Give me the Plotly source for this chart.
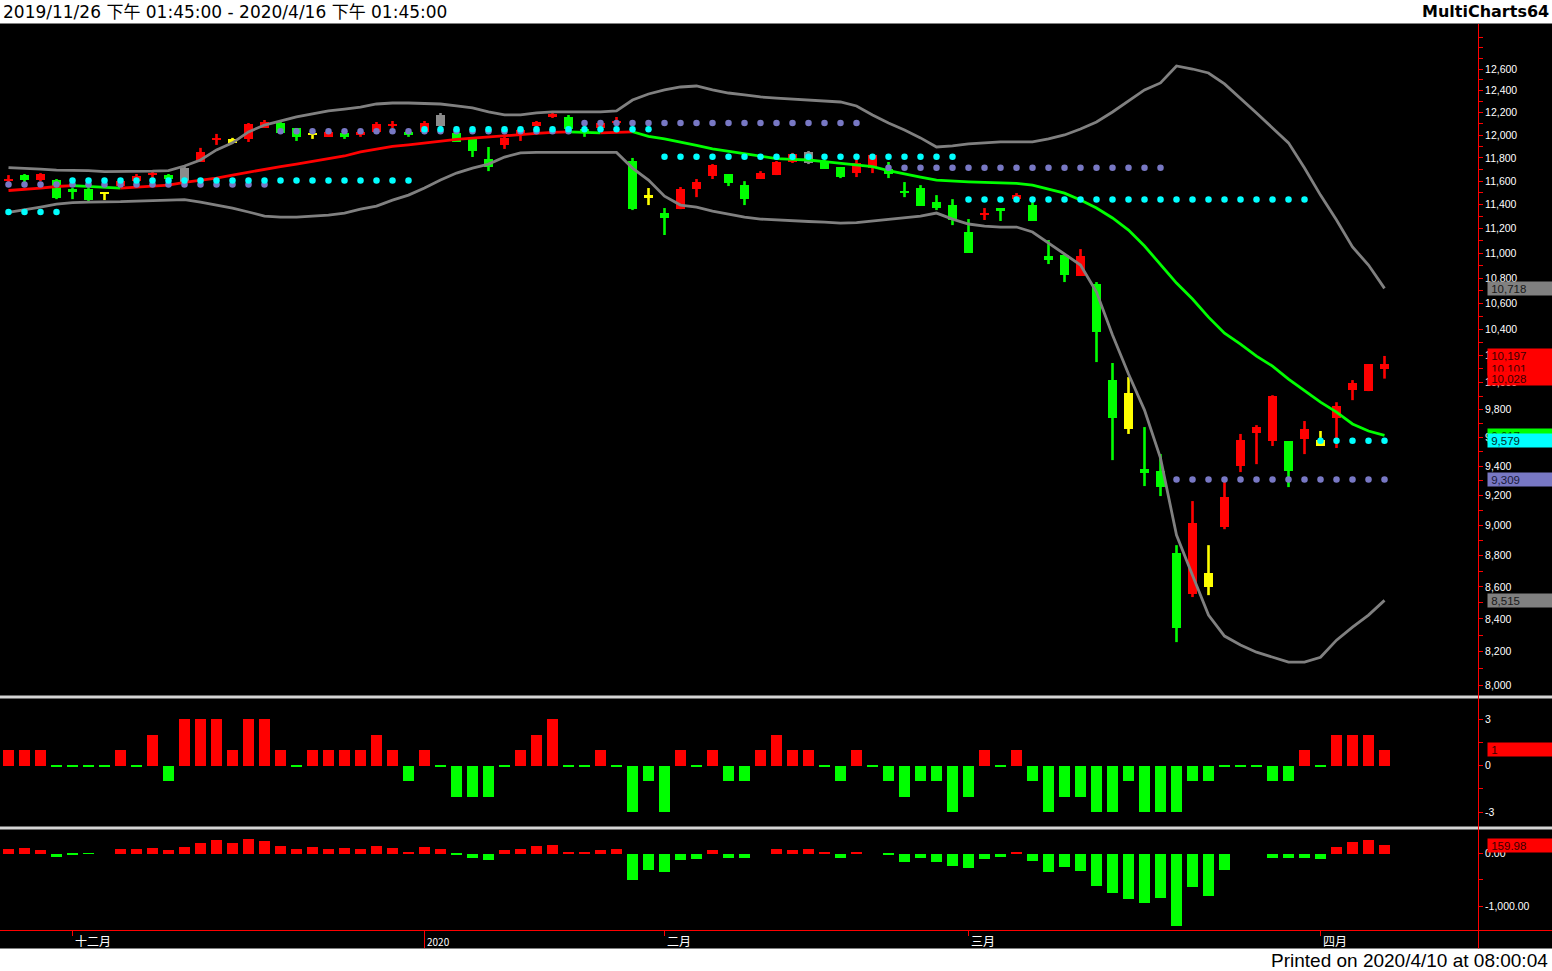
import math
import plotly.graph_objects as go

W, H = 1552, 971

# ------------------------------------------------------------------ data
# daily bars, 2019/11/26 .. 2020/4/9 (index 0..86)
open_ = [11600, 11652, 11609, 11609, 11532, 11532, 11507, 11558, 11600, 11652,
         11652, 11583, 11765, 11958, 11932, 11967, 12064, 12108, 12064, 12020,
         11985, 12020, 12002, 12029, 12082, 12029, 12029, 12082, 12020, 11976,
         11791, 11914, 12011, 12082, 12162, 12162, 12055, 12064, 12108, 11773,
         11481, 11330, 11363, 11532, 11643, 11661, 11566, 11618, 11652, 11765,
         11756, 11773, 11721, 11669, 11712, 11704, 11515, 11541, 11422, 11397,
         11173, 11313, 11372, 11447, 11397, 10976, 10984, 10816, 10752, 10017,
         9921, 9381, 9367, 8817, 8555, 8688, 8988, 9401, 9634, 9577,
         9577, 9591, 9584, 9740, 9943, 9936, 10101]
high_ = [11652, 11661, 11669, 11618, 11541, 11541, 11507, 11609, 11661, 11695,
         11661, 11732, 11888, 12011, 11976, 12108, 12135, 12117, 12064, 12020,
         12038, 12029, 12038, 12117, 12126, 12038, 12126, 12198, 12029, 11976,
         11896, 11985, 12073, 12126, 12198, 12180, 12108, 12117, 12162, 11800,
         11541, 11372, 11550, 11618, 11747, 11661, 11600, 11686, 11773, 11844,
         11861, 11782, 11721, 11791, 11826, 11765, 11592, 11566, 11481, 11447,
         11280, 11372, 11372, 11498, 11422, 11107, 10984, 11033, 10768, 10144,
         10039, 9676, 9485, 8869, 9162, 8869, 9291, 9627, 9690, 9906,
         9577, 9719, 9648, 9855, 10017, 10136, 10197]
low_ = [11592, 11592, 11600, 11447, 11447, 11431, 11439, 11550, 11592, 11626,
        11609, 11583, 11765, 11914, 11932, 11940, 12064, 12020, 11949, 11967,
        11985, 11967, 11985, 12020, 12064, 11985, 12020, 12073, 11940, 11808,
        11686, 11879, 11949, 12073, 12153, 12055, 11985, 12055, 12082, 11355,
        11397, 11148, 11363, 11464, 11618, 11558, 11397, 11618, 11652, 11756,
        11747, 11704, 11626, 11635, 11669, 11626, 11464, 11389, 11355, 11230,
        11001, 11272, 11264, 11447, 11264, 10912, 10768, 10816, 10151, 9443,
        9627, 9264, 9196, 8257, 8536, 8548, 8974, 9360, 9415, 9542,
        9257, 9485, 9542, 9528, 9870, 9936, 10028]
close_ = [11618, 11609, 11661, 11456, 11507, 11439, 11490, 11600, 11643, 11669,
          11618, 11712, 11853, 11976, 11967, 12099, 12117, 12020, 11985, 12002,
          12029, 11985, 12029, 12099, 12099, 12002, 12108, 12180, 11940, 11861,
          11721, 11976, 12046, 12117, 12189, 12055, 12029, 12108, 12126, 11363,
          11456, 11289, 11532, 11592, 11738, 11583, 11447, 11669, 11765, 11835,
          11853, 11704, 11635, 11756, 11826, 11661, 11498, 11389, 11372, 11272,
          11001, 11330, 11347, 11481, 11264, 10944, 10824, 10976, 10378, 9740,
          9662, 9353, 9257, 8343, 9014, 8599, 9189, 9584, 9676, 9899,
          9367, 9662, 9542, 9827, 9995, 10136, 10135]
yellow_bars = [6, 14, 19, 40, 70, 75, 82]
gray_bars = [11, 27, 50]

bb_upper = [11717, 11712, 11704, 11695, 11695, 11691, 11682, 11682, 11682, 11686,
            11691, 11730, 11782, 11870, 11932, 12029, 12090, 12126, 12162, 12189,
            12216, 12233, 12251, 12279, 12288, 12288, 12283, 12279, 12261, 12243,
            12207, 12180, 12180, 12198, 12207, 12207, 12207, 12207, 12216, 12315,
            12370, 12407, 12434, 12443, 12407, 12379, 12361, 12343, 12333, 12324,
            12315, 12311, 12297, 12261, 12180, 12108, 12046, 11976, 11896, 11905,
            11923, 11932, 11940, 11940, 11940, 11967, 12002, 12055, 12117, 12207,
            12306, 12407, 12471, 12628, 12600, 12563, 12462, 12333, 12198, 12064,
            11932, 11712, 11481, 11272, 11050, 10904, 10718]
bb_mid = [11520, 11528, 11541, 11554, 11562, 11555, 11548, 11541, 11548, 11556,
          11566, 11589, 11605, 11626, 11652, 11678, 11704, 11725, 11747, 11769,
          11791, 11817, 11852, 11879, 11901, 11914, 11932, 11949, 11962, 11973,
          11985, 11993, 12005, 12015, 12024, 12029, 12023, 12020, 12024, 12030,
          11989, 11967, 11940, 11910, 11879, 11857, 11835, 11813, 11795, 11788,
          11782, 11769, 11756, 11743, 11725, 11691, 11661, 11635, 11609, 11600,
          11594, 11589, 11583, 11581, 11566, 11532, 11498, 11439, 11372, 11289,
          11189, 11058, 10912, 10760, 10634, 10493, 10370, 10287, 10196, 10121,
          10024, 9936, 9855, 9783, 9698, 9648, 9617]
bb_lower = [11335, 11355, 11380, 11405, 11418, 11422, 11422, 11426, 11431, 11435,
            11443, 11443, 11422, 11397, 11372, 11339, 11305, 11297, 11297, 11305,
            11313, 11330, 11363, 11389, 11439, 11481, 11541, 11609, 11669, 11712,
            11747, 11808, 11844, 11848, 11848, 11848, 11848, 11848, 11848, 11712,
            11609, 11472, 11397, 11380, 11347, 11322, 11297, 11280, 11272, 11264,
            11260, 11255, 11247, 11251, 11264, 11280, 11289, 11305, 11330, 11280,
            11239, 11222, 11214, 11214, 11173, 11082, 10992, 10904, 10689, 10355,
            10062, 9798, 9457, 8935, 8675, 8423, 8294, 8239, 8196, 8165,
            8136, 8136, 8165, 8269, 8349, 8423, 8515]

# dotted levels: (first bar, last bar, level)
cyan_levels = [(0, 3, 11340), (4, 25, 11606), (26, 40, 12053),
               (41, 59, 11811), (60, 81, 11445), (82, 86, 9579)]
purple_levels = [(0, 16, 11572), (17, 35, 12035), (36, 53, 12108),
                 (55, 72, 11716), (73, 86, 9309)]

osc_values = [1, 1, 1, 0, 0, 0, 0, 1, 0, 2,
              -1, 3, 3, 3, 1, 3, 3, 1, 0, 1,
              1, 1, 1, 2, 1, -1, 1, 0, -2, -2,
              -2, 0, 1, 2, 3, 0, 0, 1, 0, -3,
              -1, -3, 1, 0, 1, -1, -1, 1, 2, 1,
              1, 0, -1, 1, 0, -1, -2, -1, -1, -3,
              -2, 1, 0, 1, -1, -3, -2, -2, -3, -3,
              -1, -3, -3, -3, -1, -1, 0, 0, 0, -1,
              -1, 1, 0, 2, 2, 2, 1]
flow_values = [77, 96, 58, -58, -15, -8, 0, 77, 77, 96,
               58, 115, 192, 250, 192, 269, 231, 135, 77, 115,
               77, 96, 77, 135, 96, 38, 115, 77, -15, -77,
               -115, 58, 77, 135, 154, 38, 38, 58, 77, -500,
               -308, -346, -115, -96, 58, -77, -77, 0, 77, 58,
               77, 38, -77, 38, 0, -20, -154, -77, -154, -231,
               -269, -96, -58, 38, -135, -346, -250, -327, -615, -750,
               -865, -942, -846, -1385, -635, -808, -308, 0, 0, -77,
               -77, -77, -96, 115, 212, 250, 159.98]

month_idx = [4, 26, 41, 60, 82]
month_labels = ["十二月", "2020", "二月", "三月", "四月"]

price_ticks = [8000, 8200, 8400, 8600, 8800, 9000, 9200, 9400, 9600, 9800, 10000,
               10200, 10400, 10600, 10800, 11000, 11200, 11400, 11600, 11800,
               12000, 12200, 12400, 12600]
price_minor = [8100, 8300, 8500, 8700, 8900, 9100, 9300, 9500, 9700, 9900, 10100,
               10300, 10500, 10700, 10900, 11100, 11300, 11500, 11700, 11900,
               12100, 12300, 12500, 12700, 12800, 12900]

header_text = "2019/11/26 下午 01:45:00 - 2020/4/16 下午 01:45:00"
brand_text = "MultiCharts64"
footer_text = "Printed on 2020/4/10 at 08:00:04"

# ------------------------------------------------------------------ style
RED, GREEN, YELLOW = "#FF0000", "#00FF00", "#FFFF00"
CANDLE_GRAY, BAND = "#8C8C8C", "#808080"
CYAN, PURPLE = "#00FFFF", "#7878C4"
N = len(close_)
xs = list(range(N))


def py(px):
    return (H - px) / H


def pxp(px):
    return px / W


fig = go.Figure()


def group_of(i):
    if i in yellow_bars:
        return "yellow"
    if i in gray_bars:
        return "gray"
    return "up" if close_[i] >= open_[i] else "down"


groups = {"up": RED, "down": GREEN, "yellow": YELLOW, "gray": CANDLE_GRAY}

# candle bodies
for g, col in groups.items():
    ids = [i for i in xs if group_of(i) == g]
    bases, sizes = [], []
    for i in ids:
        lo, hi = min(open_[i], close_[i]), max(open_[i], close_[i])
        minh = lo * 0.0019
        if hi - lo < minh:
            mid = (lo + hi) / 2
            lo, hi = mid - minh / 2, mid + minh / 2
        bases.append(lo)
        sizes.append(hi - lo)
    fig.add_trace(go.Bar(x=ids, y=sizes, base=bases, width=0.6,
                         marker=dict(color=col, line=dict(width=0)),
                         xaxis="x", yaxis="y", hoverinfo="skip"))

# wicks
for g, col in groups.items():
    wx, wy = [], []
    for i in xs:
        if group_of(i) == g:
            wx += [i, i, None]
            wy += [low_[i], high_[i], None]
    fig.add_trace(go.Scatter(x=wx, y=wy, mode="lines",
                             line=dict(color=col, width=2.6),
                             xaxis="x", yaxis="y", hoverinfo="skip"))

# bollinger bands
for band in (bb_upper, bb_lower):
    fig.add_trace(go.Scatter(x=xs, y=band, mode="lines",
                             line=dict(color=BAND, width=2.8),
                             xaxis="x", yaxis="y", hoverinfo="skip"))

# middle line coloured by direction
runs = []
for i in range(N - 1):
    col = RED if bb_mid[i + 1] >= bb_mid[i] else GREEN
    if runs and runs[-1][0] == col and runs[-1][1][-1] == i:
        runs[-1][1].append(i + 1)
    else:
        runs.append((col, [i, i + 1]))
for col, seg in runs:
    fig.add_trace(go.Scatter(x=seg, y=[bb_mid[k] for k in seg], mode="lines",
                             line=dict(color=col, width=2.8),
                             xaxis="x", yaxis="y", hoverinfo="skip"))

# dotted levels
for levels, col in ((purple_levels, PURPLE), (cyan_levels, CYAN)):
    dx, dy = [], []
    for a, b, lvl in levels:
        for k in range(a, b + 1):
            dx.append(k)
            dy.append(lvl)
    fig.add_trace(go.Scatter(x=dx, y=dy, mode="markers",
                             marker=dict(color=col, size=6.5, line=dict(width=0)),
                             xaxis="x", yaxis="y", hoverinfo="skip"))

# panel 2
p2_base = [-0.06 if v == 0 else 0 for v in osc_values]
p2_size = [0.12 if v == 0 else v for v in osc_values]
p2_col = [RED if v > 0 else GREEN for v in osc_values]
fig.add_trace(go.Bar(x=xs, y=p2_size, base=p2_base, width=0.7,
                     marker=dict(color=p2_col, line=dict(width=0)),
                     xaxis="x2", yaxis="y2", hoverinfo="skip"))

# panel 3
p3_col = [RED if v > 0 else GREEN for v in flow_values]
fig.add_trace(go.Bar(x=xs, y=flow_values, width=0.7,
                     marker=dict(color=p3_col, line=dict(width=0)),
                     xaxis="x3", yaxis="y3", hoverinfo="skip"))

# ------------------------------------------------------------------ flags
last = N - 1
main_flags = [
    (bb_upper[last], BAND, "#1a1a1a"),
    (close_[last], RED, "#3a0000"),
    (high_[last], RED, "#3a0000"),
    (open_[last], RED, "#3a0000"),
    (low_[last], RED, "#3a0000"),
    (bb_mid[last], GREEN, "#003a00"),
    (cyan_levels[-1][2], CYAN, "#002a2a"),
    (purple_levels[-1][2], PURPLE, "#1a1a3a"),
    (bb_lower[last], BAND, "#1a1a1a"),
]
TIP_X = 92.2  # just right of the axis line, in bar units
annotations = []
for ax_y, flags, fmt in (("y", main_flags, "{:,.0f}"),
                         ("y2", [(osc_values[last], RED, "#3a0000")], "{:.0f}"),
                         ("y3", [(flow_values[last], RED, "#3a0000")], "{:.2f}")):
    xname = {"y": "x", "y2": "x2", "y3": "x3"}[ax_y]
    fig.add_trace(go.Scatter(x=[TIP_X] * len(flags), y=[f[0] for f in flags],
                             mode="markers", cliponaxis=False,
                             marker=dict(symbol="triangle-left", size=11,
                                         color=[f[1] for f in flags], line=dict(width=0)),
                             xaxis=xname, yaxis=ax_y, hoverinfo="skip"))
    for v, col, tcol in flags:
        yy = math.log10(v) if ax_y == "y" else v
        annotations.append(dict(
            xref="paper", x=pxp(1486.5), xanchor="left",
            yref=ax_y, y=yy, yanchor="middle",
            text="&nbsp;" + fmt.format(v), showarrow=False, align="left",
            width=64, height=13, borderpad=0, bgcolor=col,
            font=dict(family="Liberation Sans", size=11.5, color=tcol)))

# month labels and ticks on the time axis
shapes = []
for k, lab in zip(month_idx, month_labels):
    big = lab.isdigit()
    shapes.append(dict(type="line", xref="x3", x0=k, x1=k, yref="paper",
                       y0=py(930.5), y1=py(948 if big else 936),
                       line=dict(color=RED, width=1)))
    annotations.append(dict(
        xref="x3", x=k, xanchor="left", xshift=0,
        yref="paper", y=py(940 if not big else 941.5), yanchor="middle",
        text=lab, showarrow=False,
        font=dict(family="Noto Sans CJK TC, DejaVu Sans", size=12 if not big else 10,
                  color="white")))

# header / footer
shapes += [
    dict(type="rect", xref="paper", yref="paper", x0=0, x1=1, y0=py(23.5), y1=1,
         fillcolor="white", line=dict(width=0), layer="above"),
    dict(type="rect", xref="paper", yref="paper", x0=0, x1=1, y0=0, y1=py(948.5),
         fillcolor="white", line=dict(width=0), layer="above"),
    dict(type="rect", xref="paper", yref="paper", x0=0, x1=1, y0=py(698.5), y1=py(695.5),
         fillcolor="#D4D4D4", line=dict(width=0), layer="above"),
    dict(type="rect", xref="paper", yref="paper", x0=0, x1=1, y0=py(829.5), y1=py(826.5),
         fillcolor="#D4D4D4", line=dict(width=0), layer="above"),
    dict(type="line", xref="paper", yref="paper", x0=0, x1=1, y0=py(930.5), y1=py(930.5),
         line=dict(color=RED, width=1), layer="above"),
    dict(type="line", xref="paper", yref="paper", x0=pxp(1478.5), x1=pxp(1478.5),
         y0=py(948.5), y1=py(24), line=dict(color=RED, width=1), layer="above"),
]
annotations += [
    dict(xref="paper", yref="paper", x=pxp(1), y=py(12), xanchor="left", yanchor="middle",
         text=header_text, showarrow=False,
         font=dict(family="DejaVu Sans, Noto Sans CJK TC", size=17, color="black")),
    dict(xref="paper", yref="paper", x=pxp(1551), y=py(12), xanchor="right", yanchor="middle",
         text="<b>" + brand_text + "</b>", showarrow=False,
         font=dict(family="DejaVu Sans", size=16, color="black")),
    dict(xref="paper", yref="paper", x=pxp(1550), y=py(960), xanchor="right", yanchor="middle",
         text=footer_text, showarrow=False,
         font=dict(family="Liberation Sans Narrow, Liberation Sans", size=19, color="black")),
]

# ------------------------------------------------------------------ axes
xcommon = dict(range=[-0.53125, 91.84375], domain=[0, 1478 / W], showgrid=False,
               zeroline=False, showticklabels=False, ticks="", showline=False,
               fixedrange=True)
ycommon = dict(side="right", showline=True, linecolor=RED, linewidth=1,
               ticks="outside", ticklen=4, tickcolor=RED, tickwidth=1,
               showgrid=False, zeroline=False, fixedrange=True,
               tickfont=dict(family="Liberation Sans", size=10.5, color="white"))

fig.update_layout(
    width=W, height=H, margin=dict(l=0, r=0, t=0, b=0),
    paper_bgcolor="black", plot_bgcolor="black", showlegend=False,
    barmode="overlay", bargap=0,
    xaxis=dict(**xcommon, anchor="y"),
    xaxis2=dict(**xcommon, anchor="y2", matches="x"),
    xaxis3=dict(**xcommon, anchor="y3", matches="x"),
    yaxis=dict(**ycommon, type="log", anchor="x",
               domain=[py(695), py(25)], range=[3.899887, 4.114462],
               tickmode="array", tickvals=price_ticks,
               ticktext=["{:,}".format(v) for v in price_ticks],
               minor=dict(tickmode="array", tickvals=price_minor, ticks="outside",
                          ticklen=4, tickcolor=RED, showgrid=False)),
    yaxis2=dict(**ycommon, anchor="x2", domain=[py(826), py(700)], range=[-3.903, 4.226],
                tickmode="array", tickvals=[3, 0, -3], ticktext=["3", "0", "-3"],
                minor=dict(tickmode="array", tickvals=[1.5, -1.5], ticks="outside",
                           ticklen=4, tickcolor=RED, showgrid=False)),
    yaxis3=dict(**ycommon, anchor="x3", domain=[py(930), py(830)], range=[-1457, 448],
                tickmode="array", tickvals=[0, -1000], ticktext=["0.00", "-1,000.00"],
                minor=dict(tickmode="array", tickvals=[-500], ticks="outside",
                           ticklen=4, tickcolor=RED, showgrid=False)),
    shapes=shapes, annotations=annotations,
)

fig.write_html("out.html", include_plotlyjs=True, full_html=True,
               config={"displayModeBar": False},
               post_script="document.body.style.margin='0';document.body.style.overflow='hidden';")
